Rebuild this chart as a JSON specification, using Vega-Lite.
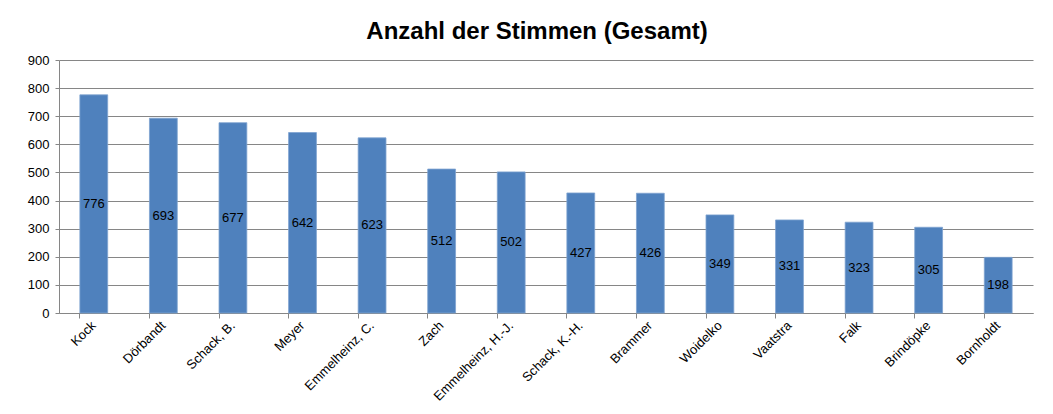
{
  "$schema": "https://vega.github.io/schema/vega-lite/v6.json",
  "width": 974,
  "height": 253,
  "autosize": {"type": "none"},
  "padding": {"left": 59, "top": 60, "right": 20, "bottom": 101},
  "background": "white",
  "title": {
    "text": "Anzahl der Stimmen (Gesamt)",
    "font": "Liberation Sans",
    "fontSize": 24,
    "fontWeight": "bold",
    "color": "black",
    "anchor": "middle",
    "dx": -9,
    "offset": 10
  },
  "config": {
    "view": {"stroke": null},
    "font": "Liberation Sans"
  },
  "data": {
    "values": [
      {"name": "Kock", "v": 776},
      {"name": "Dörbandt", "v": 693},
      {"name": "Schack, B.", "v": 677},
      {"name": "Meyer", "v": 642},
      {"name": "Emmelheinz, C.", "v": 623},
      {"name": "Zach", "v": 512},
      {"name": "Emmelheinz, H.-J.", "v": 502},
      {"name": "Schack, K.-H.", "v": 427},
      {"name": "Brammer", "v": 426},
      {"name": "Woidelko", "v": 349},
      {"name": "Vaatstra", "v": 331},
      {"name": "Falk", "v": 323},
      {"name": "Brindöpke", "v": 305},
      {"name": "Bornholdt", "v": 198}
    ]
  },
  "encoding": {
    "x": {
      "field": "name",
      "type": "nominal",
      "sort": null,
      "scale": {"paddingInner": 0.6, "paddingOuter": 0.3},
      "axis": {
        "title": null,
        "labelAngle": -45,
        "labelAlign": "right",
        "labelBaseline": "middle",
        "labelFont": "Liberation Sans",
        "labelFontSize": 13,
        "labelColor": "black",
        "labelPadding": 5,
        "bandPosition": 0,
        "tickSize": 5,
        "tickColor": "#868686",
        "domainColor": "#868686",
        "grid": false
      }
    }
  },
  "layer": [
    {
      "mark": {"type": "bar", "color": "#4F81BD", "stroke": "#7FA3D0", "strokeWidth": 0.8},
      "encoding": {
        "y": {
          "field": "v",
          "type": "quantitative",
          "scale": {"domain": [0, 900], "nice": false},
          "axis": {
            "title": null,
            "values": [0, 100, 200, 300, 400, 500, 600, 700, 800, 900],
            "labelFont": "Liberation Sans",
            "labelFontSize": 13,
            "labelColor": "black",
            "labelPadding": 6,
            "tickSize": 4,
            "tickColor": "#868686",
            "domainColor": "#868686",
            "gridColor": "#868686",
            "gridOpacity": 1
          }
        }
      }
    },
    {
      "mark": {"type": "text", "font": "Liberation Sans", "fontSize": 13, "color": "black", "baseline": "middle", "align": "center"},
      "encoding": {
        "y": {
          "field": "v",
          "type": "quantitative",
          "scale": {"domain": [0, 1800], "nice": false},
          "axis": null
        },
        "text": {"field": "v", "type": "quantitative"}
      }
    }
  ],
  "resolve": {"scale": {"y": "independent"}}
}
